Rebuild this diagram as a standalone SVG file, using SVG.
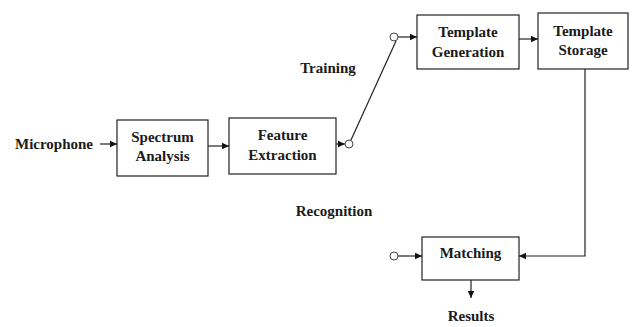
<svg xmlns="http://www.w3.org/2000/svg" width="634" height="327" viewBox="0 0 634 327">
<defs>
<marker id="ah" markerWidth="8" markerHeight="8" refX="7" refY="4" orient="auto" markerUnits="userSpaceOnUse">
<path d="M0,0.8 L7,4 L0,7.2 Z" fill="#111"/>
</marker>
</defs>
<style>
.box{fill:#fff;stroke:#222;stroke-width:1.2}
.t{font-family:"Liberation Serif","Times New Roman",serif;font-weight:bold;font-size:15px;fill:#1a1a1a;text-anchor:middle;dominant-baseline:central}
.c{stroke:#222;stroke-width:1.2;fill:none}
.sw{fill:#fff;stroke:#444;stroke-width:1}
</style>
<rect width="634" height="327" fill="#fff"/>
<g id="microphone"><text class="t" x="54" y="144">Microphone</text></g>
<g id="spectrum"><rect class="box" x="117" y="120" width="91" height="56"/><text class="t" x="162.5" y="137">Spectrum</text><text class="t" x="162.5" y="156">Analysis</text></g>
<g id="feature"><rect class="box" x="229" y="118" width="107" height="56"/><text class="t" x="282.5" y="135">Feature</text><text class="t" x="282.5" y="155">Extraction</text></g>
<g id="tgen"><rect class="box" x="417" y="15" width="102" height="54"/><text class="t" x="468" y="32">Template</text><text class="t" x="468" y="52">Generation</text></g>
<g id="tstore"><rect class="box" x="538" y="13" width="90" height="56"/><text class="t" x="583" y="31">Template</text><text class="t" x="583" y="50">Storage</text></g>
<g id="matching"><rect class="box" x="422" y="237" width="97" height="43"/><text class="t" x="470.5" y="253">Matching</text></g>
<g id="training"><text class="t" x="328" y="68">Training</text></g>
<g id="recognition"><text class="t" x="334" y="211">Recognition</text></g>
<g id="results"><text class="t" x="471" y="316">Results</text></g>
<g id="connectors">
<line class="c" x1="100" y1="144" x2="117" y2="144" marker-end="url(#ah)"/>
<line class="c" x1="208" y1="146" x2="229" y2="146" marker-end="url(#ah)"/>
<line class="c" x1="336" y1="144" x2="345" y2="144" marker-end="url(#ah)"/>
<line class="c" x1="351" y1="140" x2="396" y2="41"/>
<line class="c" x1="398" y1="37" x2="417" y2="37" marker-end="url(#ah)"/>
<line class="c" x1="519" y1="39" x2="538" y2="39" marker-end="url(#ah)"/>
<polyline class="c" points="585,69 585,256 519,256" marker-end="url(#ah)"/>
<line class="c" x1="398" y1="256" x2="422" y2="256" marker-end="url(#ah)"/>
<line class="c" x1="471" y1="280" x2="471" y2="298" marker-end="url(#ah)"/>
<circle class="sw" cx="349" cy="144" r="4"/>
<circle class="sw" cx="394" cy="37" r="4"/>
<circle class="sw" cx="394" cy="256" r="4"/>
</g>
</svg>
